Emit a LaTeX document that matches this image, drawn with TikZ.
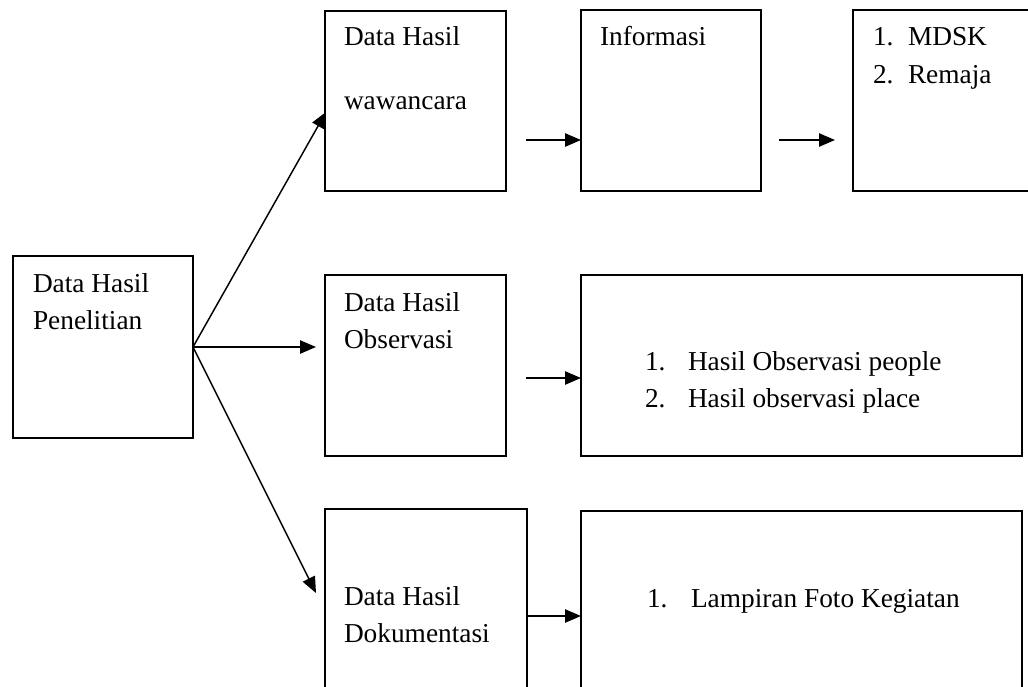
\documentclass[tikz,border=0pt]{standalone}
\usepackage{fontspec}
\setmainfont{Liberation Serif}
\usetikzlibrary{arrows.meta,calc}
\begin{document}
\begin{tikzpicture}[x=0.75pt,y=-0.75pt,
  boxnode/.style={draw, line width=1.3pt, inner sep=0pt, outer sep=0pt, anchor=north west},
  txt/.style={anchor=base west, inner sep=0pt, outer sep=0pt, font=\fontsize{20.5}{24}\selectfont},
  arr/.style={line width=1.1pt, -{Triangle[length=12pt,width=10pt]}}]
\useasboundingbox (0,0) rectangle (1028,686);
\clip (0,0) rectangle (1028,686);
% boxes
\node[boxnode, minimum width=135pt, minimum height=136.5pt] (A) at (13,256) {};
\node[boxnode, minimum width=135.75pt, minimum height=135pt] (B) at (325,11) {};
\node[boxnode, minimum width=135pt, minimum height=135.75pt] (C) at (581,10) {};
\node[boxnode, minimum width=136.5pt, minimum height=135.75pt] (D) at (853,10) {};
\node[boxnode, minimum width=135.75pt, minimum height=135.75pt] (E) at (325,275) {};
\node[boxnode, minimum width=330.75pt, minimum height=135.75pt] (F) at (581,275) {};
\node[boxnode, minimum width=151.5pt, minimum height=143.25pt] (G) at (325,509) {};
\node[boxnode, minimum width=330.75pt, minimum height=141.75pt] (H) at (581,511) {};
% texts
\node[txt] (a1) at (33,292) {Data Hasil};
\node[txt] (a2) at (33,329) {Penelitian};
\node[txt] (b1) at (344,45) {Data Hasil};
\node[txt] (b2) at (344,109) {wawancara};
\node[txt] (c1) at (600,45) {Informasi};
\node[txt] (d1n) at (873,45) {1.};
\node[txt] (d1) at (908,45) {MDSK};
\node[txt] (d2n) at (873,83) {2.};
\node[txt] (d2) at (908,83) {Remaja};
\node[txt] (e1) at (344,311) {Data Hasil};
\node[txt] (e2) at (344,348) {Observasi};
\node[txt] (f1n) at (645,370) {1.};
\node[txt] (f1) at (688,370) {Hasil Observasi people};
\node[txt] (f2n) at (645,407) {2.};
\node[txt] (f2) at (688,407) {Hasil observasi place};
\node[txt] (g1) at (344,605) {Data Hasil};
\node[txt] (g2) at (344,642) {Dokumentasi};
\node[txt] (h1n) at (647,607) {1.};
\node[txt] (h1) at (691,607) {Lampiran Foto Kegiatan};
% connectors
\draw[arr] (A.east) -- ($(B.north west)+(1,101)$);
\draw[arr] (A.east) -- ($(E.north west)+(-9,72)$);
\draw[arr] (A.east) -- ($(G.north west)+(-9,84)$);
\draw[arr] ($(B.north east)+(20,129)$) -- ($(C.north west)+(0,130)$);
\draw[arr] ($(C.north east)+(18,130)$) -- ($(D.north west)+(-18,130)$);
\draw[arr] ($(E.north east)+(20,103)$) -- ($(F.north west)+(0,103)$);
\draw[arr] ($(G.north east)+(0,107)$) -- ($(H.north west)+(0,105)$);
\end{tikzpicture}
\end{document}
